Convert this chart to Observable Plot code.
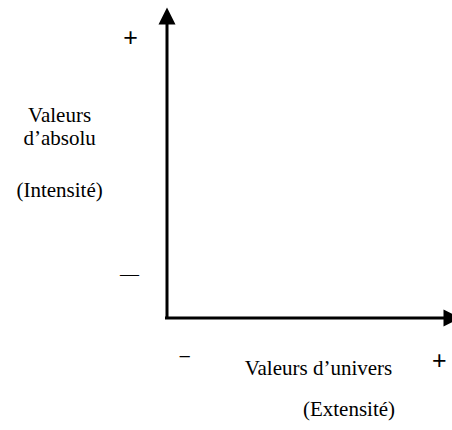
<!DOCTYPE html>
<html>
<head>
<meta charset="utf-8">
<script src="https://cdn.jsdelivr.net/npm/d3@7"></script>
<script src="https://cdn.jsdelivr.net/npm/@observablehq/plot@0.6"></script>
<style>
  html, body { margin: 0; padding: 0; background: #fff; }
  #chart svg { display: block; }
</style>
</head>
<body>
<div id="chart"></div>
<script>
// Axis definition (diagram units: origin at 0, axis ends at 100)
const axisOrigin = [{x: 0, y: 0}];
const axisEnds = [{axis: "vertical", x: 0, y: 100}, {axis: "horizontal", x: 100, y: 0}];

// Text labels around the axes
const axisLabels = ["Valeurs", "d’absolu", "(Intensité)", "Valeurs d’univers", "(Extensité)"];
const axisLabelX = [-36.6, -36.6, -36.6, 51.6, 62.0];
const axisLabelY = [63.0, 55.6, 39.1, -18.2, -31.7];

// Sign markers (+ / −)
const signs = ["+", "—", "−", "+"];
const signX = [-12.4, -12.8, 6.0, 92.8];
const signY = [90.3, 14.3, -12.7, -14.0];

const labelData = axisLabels.map((t, i) => ({text: t, x: axisLabelX[i], y: axisLabelY[i]}));
const signData = signs.map((t, i) => ({text: t, x: signX[i], y: signY[i], kind: i}));

// Filled arrowhead symbols with tip at the data point
const arrowUp = {
  draw(ctx, size) {
    const r = Math.sqrt(size / Math.PI);
    ctx.moveTo(0, 0);
    ctx.lineTo(-r, 2 * r);
    ctx.lineTo(r, 2 * r);
    ctx.closePath();
  }
};
const arrowRight = {
  draw(ctx, size) {
    const r = Math.sqrt(size / Math.PI);
    ctx.moveTo(0, 0);
    ctx.lineTo(-2 * r, -r);
    ctx.lineTo(-2 * r, r);
    ctx.closePath();
  }
};

const chart = Plot.plot({
  width: 452,
  height: 430,
  margin: 0,
  x: {domain: [0, 100], range: [166.5, 460], axis: null},
  y: {domain: [0, 100], range: [317.5, 7], axis: null},
  marks: [
    Plot.ruleX(axisOrigin, {x: "x", y1: 0, y2: 96, stroke: "#000", strokeWidth: 3, strokeLinecap: "square"}),
    Plot.ruleY(axisOrigin, {y: "y", x1: 0, x2: 96, stroke: "#000", strokeWidth: 3, strokeLinecap: "square"}),
    Plot.dot(axisEnds.filter(d => d.axis === "vertical"), {x: "x", y: "y", r: 8.5, symbol: arrowUp, fill: "#000", stroke: "none"}),
    Plot.dot(axisEnds.filter(d => d.axis === "horizontal"), {x: "x", y: "y", r: 8.5, symbol: arrowRight, fill: "#000", stroke: "none"}),
    Plot.text(labelData, {x: "x", y: "y", text: "text", textAnchor: "middle", lineAnchor: "bottom",
      fontFamily: "Liberation Serif", fontSize: 21, fill: "#000"}),
    Plot.text(signData.filter(d => d.text === "+"), {x: "x", y: "y", text: "text", textAnchor: "middle", lineAnchor: "middle",
      fontFamily: "Liberation Sans", fontSize: 25, fill: "#000"}),
    Plot.text(signData.filter(d => d.text === "—"), {x: "x", y: "y", text: "text", textAnchor: "middle", lineAnchor: "middle",
      fontFamily: "Liberation Serif", fontSize: 19, fill: "#000"}),
    Plot.text(signData.filter(d => d.text === "−"), {x: "x", y: "y", text: "text", textAnchor: "middle", lineAnchor: "middle",
      fontFamily: "Liberation Serif", fontSize: 22, fill: "#000"})
  ]
});
document.getElementById("chart").appendChild(chart);
</script>
</body>
</html>
